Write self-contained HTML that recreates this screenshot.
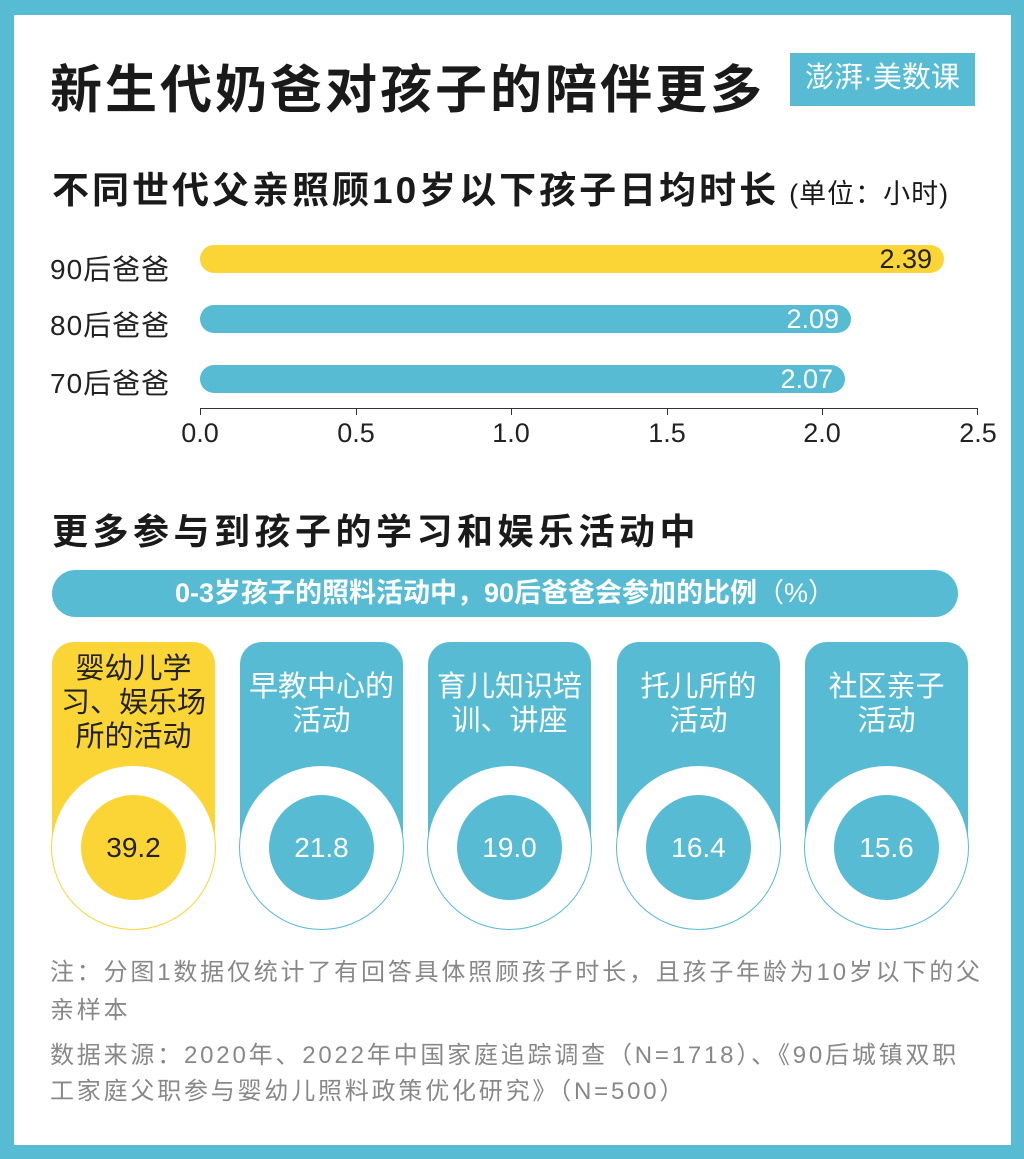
<!DOCTYPE html>
<html><head><meta charset="utf-8"><style>
*{margin:0;padding:0;box-sizing:border-box}
body{width:1024px;height:1159px;background:#57bbd3;position:relative;overflow:hidden;font-family:"Liberation Sans","Noto Sans CJK SC",sans-serif}
.in{position:absolute;left:14px;top:15px;width:997px;height:1130px;background:#fff}
.a{position:absolute;white-space:nowrap}
.bar{position:absolute;left:200px;height:28px;border-radius:14px}
.bar span{position:absolute;right:12px;top:0;line-height:28px;font-size:27px}
.lab{position:absolute;left:50px;font-size:28px;letter-spacing:1px;color:#222}
.tk{position:absolute;top:408px;width:1px;height:7px;background:#333}
.tl{position:absolute;top:418px;font-size:27px;color:#222;width:60px;text-align:center}
.card{position:absolute;top:642px;width:163px;height:205px;border-radius:22px 22px 0 0}
.card .t{position:absolute;top:10px;left:0;width:100%;text-align:center;font-size:29px;line-height:34px}
.ring{position:absolute;top:765px;width:165px;height:165px;border-radius:50%;background:#fff;border:1px solid #57bbd3}
.dot{position:absolute;left:29px;top:29px;width:105px;height:105px;border-radius:50%;background:#57bbd3;color:#fff;font-size:28px;line-height:105px;text-align:center}
.note{position:absolute;left:50px;font-size:24px;color:#888;white-space:nowrap}
</style></head><body>
<div class="in"></div>
<div class="a" style="left:50px;top:48px;font-size:52px;letter-spacing:3px;font-weight:bold;color:#1a1a1a">新生代奶爸对孩子的陪伴更多</div>
<div class="a" style="left:790px;top:53px;width:185px;height:53px;background:#57bbd3;color:#fff;font-size:29px;line-height:50px;text-align:center">澎湃·美数课</div>
<div class="a" style="left:52px;top:160px;font-size:37px;letter-spacing:3px;font-weight:bold;color:#1a1a1a">不同世代父亲照顾10岁以下孩子日均时长<span style="font-size:27px;font-weight:normal;letter-spacing:1px;margin-left:10px">(单位：小时)</span></div>
<div class="lab" style="top:248px">90后爸爸</div>
<div class="lab" style="top:304px">80后爸爸</div>
<div class="lab" style="top:362px">70后爸爸</div>
<div class="bar" style="top:245px;width:744px;background:#fbd535"><span style="color:#222">2.39</span></div>
<div class="bar" style="top:305px;width:651px;background:#57bbd3"><span style="color:#fff">2.09</span></div>
<div class="bar" style="top:365px;width:645px;background:#57bbd3"><span style="color:#fff">2.07</span></div>
<div class="a" style="left:200px;top:408px;width:778px;height:1px;background:#333"></div>
<div class="tk" style="left:200px"></div><div class="tk" style="left:356px"></div><div class="tk" style="left:511px"></div><div class="tk" style="left:667px"></div><div class="tk" style="left:822px"></div><div class="tk" style="left:977px"></div>
<div class="tl" style="left:170px">0.0</div><div class="tl" style="left:326px">0.5</div><div class="tl" style="left:481px">1.0</div><div class="tl" style="left:637px">1.5</div><div class="tl" style="left:792px">2.0</div><div class="tl" style="left:948px">2.5</div>
<div class="a" style="left:52px;top:503px;font-size:36px;letter-spacing:4.5px;font-weight:bold;color:#1a1a1a">更多参与到孩子的学习和娱乐活动中</div>
<div class="a" style="left:52px;top:570px;width:906px;height:47px;border-radius:24px;background:#57bbd3;color:#fff;font-size:27px;font-weight:bold;line-height:47px;text-align:center">0-3岁孩子的照料活动中，90后爸爸会参加的比例<span style="font-weight:normal">（%）</span></div>

<div class="card" style="left:52px;background:#fbd535;color:#222"><div class="t">婴幼儿学<br>习、娱乐场<br>所的活动</div></div>
<div class="ring" style="left:51px;border-color:#fbd535"><div class="dot" style="background:#fbd535;color:#222">39.2</div></div>

<div class="card" style="left:240px;background:#57bbd3;color:#fff"><div class="t" style="top:28px">早教中心的<br>活动</div></div>
<div class="ring" style="left:239px"><div class="dot">21.8</div></div>

<div class="card" style="left:428px;background:#57bbd3;color:#fff"><div class="t" style="top:28px">育儿知识培<br>训、讲座</div></div>
<div class="ring" style="left:427px"><div class="dot">19.0</div></div>

<div class="card" style="left:617px;background:#57bbd3;color:#fff"><div class="t" style="top:28px">托儿所的<br>活动</div></div>
<div class="ring" style="left:616px"><div class="dot">16.4</div></div>

<div class="card" style="left:805px;background:#57bbd3;color:#fff"><div class="t" style="top:28px">社区亲子<br>活动</div></div>
<div class="ring" style="left:804px"><div class="dot">15.6</div></div>

<div class="note" style="top:954px;line-height:38px;letter-spacing:2.8px">注：分图1数据仅统计了有回答具体照顾孩子时长，且孩子年龄为10岁以下的父<br>亲样本</div>
<div class="note" style="top:1038px;line-height:36px;letter-spacing:2.8px">数据来源：2020年、2022年中国家庭追踪调查（N=1718）、《90后城镇双职<br>工家庭父职参与婴幼儿照料政策优化研究》（N=500）</div>
</body></html>
